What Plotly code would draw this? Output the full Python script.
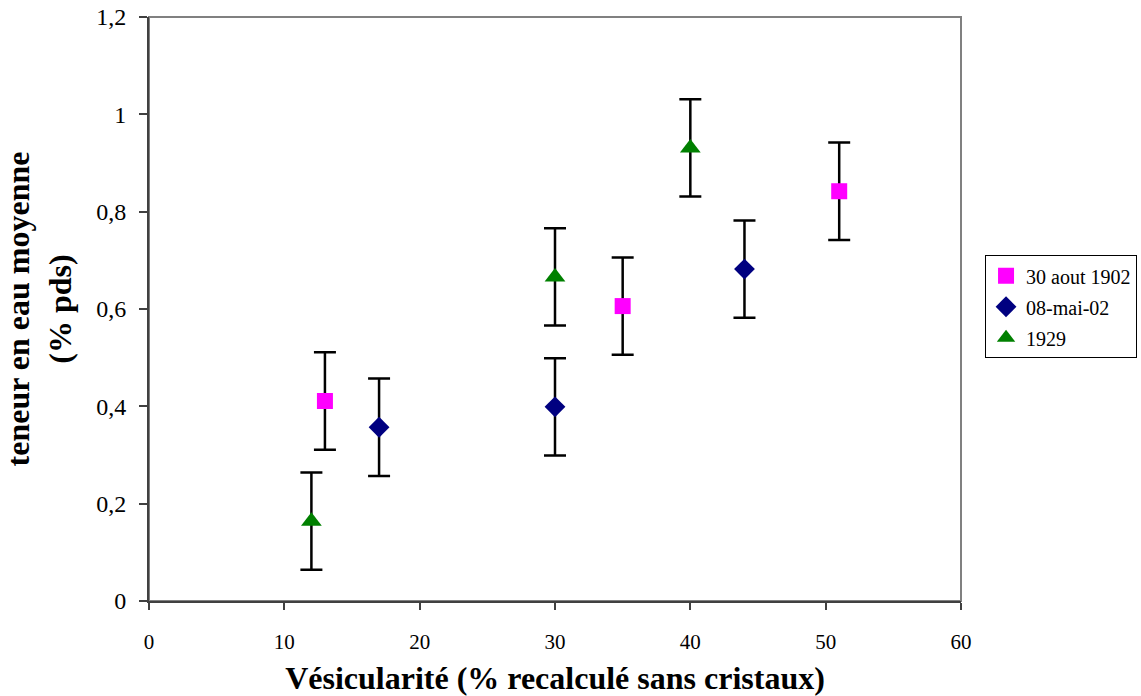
import plotly.graph_objects as go

# Data
s1_name = "30 aout 1902"
s1_x = [13, 35, 51]
s1_y = [0.411, 0.606, 0.842]

s2_name = "08-mai-02"
s2_x = [17, 30, 44]
s2_y = [0.357, 0.399, 0.682]

s3_name = "1929"
s3_x = [12, 30, 40]
s3_y = [0.164, 0.666, 0.931]

err = 0.1

FONT = "Liberation Serif, Times New Roman, serif"

fig = go.Figure()

def add(name, xs, ys, color, symbol, size):
    fig.add_trace(go.Scatter(
        x=xs, y=ys, mode="markers", name=name, legendgroup=name,
        marker=dict(color=color, symbol=symbol, size=size, line=dict(width=0)),
        error_y=dict(type="constant", value=err, color="black", thickness=2.5, width=11),
    ))

add(s1_name, s1_x, s1_y, "#FF00FF", "square", 16)
add(s2_name, s2_x, s2_y, "#000080", "diamond", 16)
add(s3_name, s3_x, s3_y, "#008000", "triangle-up", 18)

# grey frame (top/right)
fig.add_shape(type="rect", xref="paper", yref="paper", x0=0, y0=0, x1=1, y1=1,
              line=dict(color="#808080", width=2), layer="below")

fig.update_layout(
    width=1141, height=696,
    margin=dict(l=149, r=180, t=17, b=95, autoexpand=False),
    paper_bgcolor="white", plot_bgcolor="white",
    separators=", ",
    font=dict(family=FONT, color="black", size=18),
    showlegend=True,
    legend=dict(x=1.0296, y=0.592, xanchor="left", yanchor="top",
                bordercolor="black", borderwidth=1, bgcolor="white",
                font=dict(family=FONT, size=20), itemsizing="trace",
                tracegroupgap=2, itemwidth=30),
    xaxis=dict(range=[0, 60], dtick=10, tick0=0, showgrid=False, zeroline=False,
               showline=True, linecolor="#404040", linewidth=2, automargin=False,
               ticks="outside", ticklen=7, tickcolor="#404040", tickwidth=1.5,
               ticklabelstandoff=14,
               tickfont=dict(family=FONT, size=21),
               title=dict(text="<b>Vésicularité (% recalculé sans cristaux)</b>",
                          font=dict(family=FONT, size=32), standoff=20)),
    yaxis=dict(range=[0, 1.2], dtick=0.2, tick0=0, showgrid=False, zeroline=False,
               showline=True, linecolor="#404040", linewidth=2, automargin=False,
               ticks="outside", ticklen=8, tickcolor="#404040", tickwidth=1.5,
               ticklabelstandoff=8,
               tickfont=dict(family=FONT, size=24),
               title=dict(text="<b>teneur en eau moyenne<br>(% pds)</b>",
                          font=dict(family=FONT, size=32), standoff=18)),
)

fig.write_html("out.html", config={"displayModeBar": False},
               post_script="document.body.style.margin='0';")
